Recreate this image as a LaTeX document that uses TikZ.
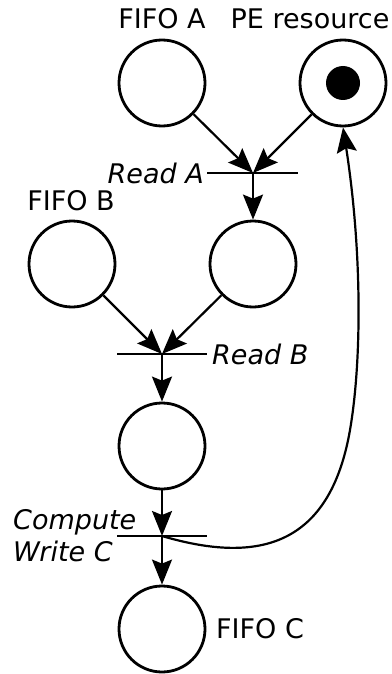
\documentclass[tikz,border=0pt]{standalone}
\usepackage{fontspec}
\setmainfont{DejaVu Sans}
\usetikzlibrary{arrows.meta}
\begin{document}
\begin{tikzpicture}[x=1pt,y=-1pt,
  place/.style={circle,draw,line width=2.8pt,minimum size=86pt,inner sep=0pt},
  trans/.style={line width=2.2pt},
  arc/.style={line width=2.2pt,-{Stealth[length=25pt,width=20pt,inset=4pt]}},
  lbl/.style={font=\fontsize{27}{32}\selectfont,inner sep=0pt},
  tlbl/.style={font=\fontsize{27}{32}\selectfont\itshape,inner sep=0pt,align=left}]
\useasboundingbox (0,0) rectangle (391,674);
% places
\node[place] (fa) at (162,83) {};
\node[place] (pe) at (343,83) {};
\node[circle,fill=black,minimum size=34pt,inner sep=0pt] (tok) at (343,83) {};
\node[place] (fb) at (72,264) {};
\node[place] (pa) at (253,264) {};
\node[place] (pb) at (162,446) {};
\node[place] (fc) at (162,629) {};
% transitions
\coordinate (ta) at (253,173);
\coordinate (tb) at (162,354);
\coordinate (tc) at (162,536);
\coordinate (taL) at (207,173); \coordinate (taR) at (298,173);
\coordinate (tbL) at (117,354); \coordinate (tbR) at (207,354);
\coordinate (tcL) at (117,536); \coordinate (tcR) at (207,536);
\draw[trans] (taL) -- (taR);
\draw[trans] (tbL) -- (tbR);
\draw[trans] (tcL) -- (tcR);
% labels
\node[lbl] (lfa) at (162,19) {FIFO A};
\node[lbl] (lpe) at (310,19) {PE resource};
\node[lbl] (lfb) at (71,201) {FIFO B};
\node[lbl,anchor=west] (lfc) at (216,629) {FIFO C};
\node[tlbl,anchor=east] (lra) at (204,173) {Read A};
\node[tlbl,anchor=west] (lrb) at (212,354) {Read B};
\node[tlbl,anchor=west] (lcw) at (13,536) {Compute\\Write C};
% arcs
\draw[arc] (fa) -- (ta);
\draw[arc] (pe) -- (ta);
\draw[arc] (ta) -- (pa);
\draw[arc] (fb) -- (tb);
\draw[arc] (pa) -- (tb);
\draw[arc] (tb) -- (pb);
\draw[arc] (pb) -- (tc);
\draw[arc] (tc) -- (fc);
\draw[arc] (tc) .. controls (260,565) and (330,545) .. (350,430)
  .. controls (362,360) and (362,250) .. (pe.south);
\end{tikzpicture}
\end{document}
